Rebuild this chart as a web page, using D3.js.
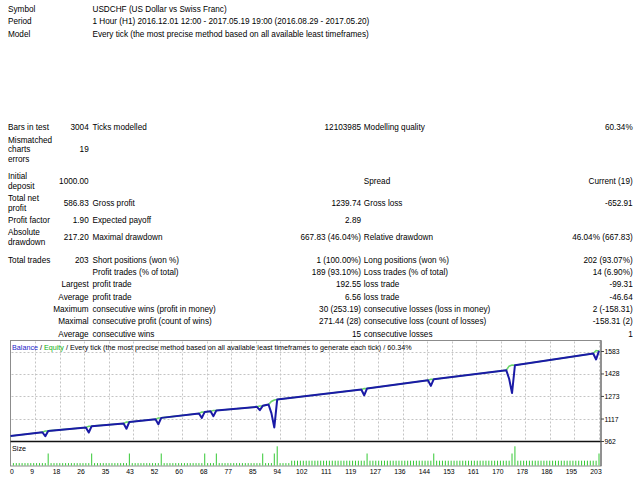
<!DOCTYPE html>
<html><head><meta charset="utf-8">
<script src="https://cdn.jsdelivr.net/npm/d3@7"></script>
<style>html,body{margin:0;padding:0;background:#fff;}svg{display:block;}</style>
</head><body><svg id="c" width="640" height="480"></svg>
<script>
// ---------- data ----------
const headerLabels = ["Symbol", "Period", "Model"];
const headerValues = [
  "USDCHF (US Dollar vs Swiss Franc)",
  "1 Hour (H1) 2016.12.01 12:00 - 2017.05.19 19:00 (2016.08.29 - 2017.05.20)",
  "Every tick (the most precise method based on all available least timeframes)"
];
// columns: labelA, valueA, labelB, valueC, labelD, valueE
const statRows = [
  ["Bars in test", "3004", "Ticks modelled", "12103985", "Modelling quality", "60.34%"],
  ["Mismatched\ncharts\nerrors", "19", "", "", "", ""],
  ["Initial\ndeposit", "1000.00", "", "", "Spread", "Current (19)"],
  ["Total net\nprofit", "586.83", "Gross profit", "1239.74", "Gross loss", "-652.91"],
  ["Profit factor", "1.90", "Expected payoff", "2.89", "", ""],
  ["Absolute\ndrawdown", "217.20", "Maximal drawdown", "667.83 (46.04%)", "Relative drawdown", "46.04% (667.83)"],
  ["Total trades", "203", "Short positions (won %)", "1 (100.00%)", "Long positions (won %)", "202 (93.07%)"],
  ["", "", "Profit trades (% of total)", "189 (93.10%)", "Loss trades (% of total)", "14 (6.90%)"],
  ["", "Largest", "profit trade", "192.55", "loss trade", "-99.31"],
  ["", "Average", "profit trade", "6.56", "loss trade", "-46.64"],
  ["", "Maximum", "consecutive wins (profit in money)", "30 (253.19)", "consecutive losses (loss in money)", "2 (-158.31)"],
  ["", "Maximal", "consecutive profit (count of wins)", "271.44 (28)", "consecutive loss (count of losses)", "-158.31 (2)"],
  ["", "Average", "consecutive wins", "15", "consecutive losses", "1"]
];
const sectionStarts = [2, 6];

const xTickLabels = [0, 9, 18, 26, 35, 43, 52, 60, 68, 77, 85, 94, 102, 111, 119, 127, 136, 144, 153, 161, 170, 178, 186, 195, 203];
const yTickValues = [962, 1117, 1273, 1428, 1583];

// balance / equity break points (trade number, value)
const balanceTrades = [0, 11, 12, 13, 26, 27, 28, 39, 40, 41, 50, 51, 52, 65, 66, 67, 69, 70, 71, 85, 86, 87, 89, 90, 91, 92, 121, 122, 123, 144, 145, 146, 171, 172, 173, 174, 201, 202, 203];
const balanceValues = [1000, 1026, 998, 1035, 1059, 1024, 1068, 1086, 1050, 1097, 1116, 1081, 1125, 1155, 1125, 1166, 1171, 1137, 1176, 1201, 1178, 1208, 1217, 1158, 1059, 1252, 1321, 1281, 1328, 1385, 1346, 1392, 1454, 1395, 1296, 1488, 1569, 1528, 1586.83];
const equityValues  = [1000, 1026, 1034, 1035, 1059, 1067, 1068, 1086, 1096, 1097, 1116, 1124, 1125, 1155, 1165, 1166, 1171, 1176, 1176, 1201, 1207, 1208, 1217, 1238, 1248, 1252, 1321, 1327, 1328, 1385, 1391, 1392, 1454, 1482, 1490, 1488, 1569, 1590, 1586.83];

// lot size of trades 1..203
const lots = [
  .01,.01,.01,.01,.01,.01,.01,.01,.01,.01,
  .01,.01,.05,.01,.01,.01,.01,.01,.01,.01,
  .01,.01,.01,.01,.01,.01,.01,.05,.01,.01,
  .01,.01,.01,.01,.01,.01,.01,.01,.01,.01,
  .05,.01,.01,.01,.01,.01,.01,.01,.01,.01,
  .01,.05,.01,.01,.01,.01,.01,.01,.01,.01,
  .01,.01,.01,.01,.01,.01,.05,.01,.01,.01,
  .05,.01,.01,.01,.01,.01,.01,.01,.01,.01,
  .01,.01,.01,.01,.01,.01,.05,.01,.01,.01,
  .05,.08,.01,.01,.01,.01,.02,.02,.02,.02,
  .02,.02,.02,.02,.02,.02,.02,.02,.02,.02,
  .02,.02,.02,.02,.02,.02,.02,.02,.02,.02,
  .02,.02,.05,.02,.02,.02,.02,.02,.02,.02,
  .02,.02,.02,.02,.02,.02,.02,.02,.02,.02,
  .02,.02,.02,.02,.02,.05,.02,.02,.02,.02,
  .02,.02,.02,.02,.02,.02,.02,.02,.02,.02,
  .02,.02,.02,.02,.02,.02,.02,.02,.02,.02,
  .02,.02,.05,.08,.02,.02,.02,.02,.02,.02,
  .02,.02,.02,.02,.02,.02,.02,.02,.02,.02,
  .02,.02,.02,.02,.02,.02,.02,.02,.02,.02,
  .02,.02,.05
];
const legendParts = [
  ["Balance", "balance"], [" / ", "plain"], ["Equity", "equity"],
  [" / Every tick (the most precise method based on all available least timeframes to generate each tick) / 60.34%", "plain"]
];

// ---------- drawing ----------
const svg = d3.select("#c");
svg.append("rect").attr("width", 640).attr("height", 480).attr("fill", "#fff");
const FONT = "'Liberation Sans', Arial, sans-serif";
const repSize = 8.2;
const colA = 8, colAv = 88.7, colB = 92.5, colC = 361, colD = 363.8, colE = 632.7;

const rep = svg.append("g").attr("font-family", FONT).attr("font-size", repSize).attr("fill", "#000");
function txt(x, y, s, anchor) {
  if (!s) return;
  rep.append("text").attr("x", x).attr("y", y + 3).attr("text-anchor", anchor || "start").text(s);
}
const step = 12.35, lineStep = 9.5;
headerLabels.forEach((l, i) => {
  txt(colA, 9 + i * step, l);
  txt(colB, 9 + i * step, headerValues[i]);
});
let y = 127.3;
statRows.forEach((r, i) => {
  if (sectionStarts.includes(i)) y += 5.3;
  const lines = r[0].split("\n");
  lines.forEach((ln, j) => txt(colA, y + j * lineStep, ln));
  const yc = y + (lines.length - 1) * lineStep / 2;
  txt(colAv, yc, r[1], "end");
  txt(colB, yc, r[2]);
  txt(colC, yc, r[3], "end");
  txt(colD, yc, r[4]);
  txt(colE, yc, r[5], "end");
  y += (lines.length - 1) * lineStep + step;
});

// chart geometry
const L = 10.5, R = 601, T = 340.5, SEP = 441.5, B = 466;
const x = d3.scaleLinear().domain([0, 203]).range([10.5, 599]);
const yS = d3.scaleLinear().domain([962, 1583]).range([441.5, 351.5]);
const sz = d3.scaleLinear().domain([0, 0.1]).range([465.5, 441.5]);

const g = svg.append("g");
g.append("rect").attr("x", L).attr("y", T).attr("width", R - L).attr("height", B - T)
  .attr("fill", "#fff").attr("stroke", "#8c8c8c").attr("stroke-width", 1);

// grid
const tickPos = xTickLabels.map((d, k) => k * 203 / (xTickLabels.length - 1));
g.selectAll(".vg").data(tickPos.slice(1)).enter().append("line")
  .attr("x1", d => Math.round(x(d)) + 0.5).attr("x2", d => Math.round(x(d)) + 0.5)
  .attr("y1", T + 1).attr("y2", SEP - 1)
  .attr("stroke", "#c4c4c4").attr("stroke-width", 1).attr("stroke-dasharray", "2,2");
g.selectAll(".hg").data(yTickValues.slice(1)).enter().append("line")
  .attr("x1", L + 1).attr("x2", R - 1)
  .attr("y1", d => Math.round(yS(d)) + 0.5).attr("y2", d => Math.round(yS(d)) + 0.5)
  .attr("stroke", "#c4c4c4").attr("stroke-width", 1).attr("stroke-dasharray", "2,2");

// size bars
g.selectAll(".sz").data(lots).enter().append("line")
  .attr("x1", (d, i) => x(i + 1)).attr("x2", (d, i) => x(i + 1))
  .attr("y1", sz(0)).attr("y2", d => sz(d))
  .attr("stroke", "#34c834").attr("stroke-width", 1);

// separator
g.append("line").attr("x1", L).attr("x2", R).attr("y1", SEP).attr("y2", SEP)
  .attr("stroke", "#111").attr("stroke-width", 1.4);

// lines
const line = d3.line().x(d => x(d[0])).y(d => yS(d[1]));
g.append("path").datum(balanceTrades.map((t, i) => [t, equityValues[i]]))
  .attr("d", line).attr("fill", "none").attr("stroke", "#6ad66a").attr("stroke-width", 1.6);
g.append("path").datum(balanceTrades.map((t, i) => [t, balanceValues[i]]))
  .attr("d", line).attr("fill", "none").attr("stroke", "#1a1aa6").attr("stroke-width", 2)
  .attr("stroke-linejoin", "round");

// right axis
g.append("line").attr("x1", R).attr("x2", R).attr("y1", T).attr("y2", B).attr("stroke", "#6e6e6e").attr("stroke-width", 1.2);
const ax = svg.append("g").attr("font-family", FONT).attr("font-size", 6.8).attr("fill", "#000");
yTickValues.forEach(v => {
  ax.append("line").attr("x1", R).attr("x2", R + 3).attr("y1", yS(v)).attr("y2", yS(v)).attr("stroke", "#444");
  ax.append("text").attr("x", R + 3.5).attr("y", yS(v) + 2.5).text(v);
});
xTickLabels.forEach((lab, k) => {
  const px = Math.max(x(tickPos[k]) - 3, 12);
  ax.append("text").attr("x", px).attr("y", 473.5).attr("text-anchor", "middle").text(lab);
});

// legend
const colors = { balance: "#2424c8", equity: "#10b010", plain: "#000" };
const lg = svg.append("text").attr("x", 12).attr("y", 350).attr("font-family", FONT)
  .attr("font-size", 7.2).attr("xml:space", "preserve").style("white-space", "pre");
legendParts.forEach(p => lg.append("tspan").attr("fill", colors[p[1]]).text(p[0]));
svg.append("text").attr("x", 12).attr("y", 451).attr("font-family", FONT).attr("font-size", 7.2).text("Size");
</script></body></html>
